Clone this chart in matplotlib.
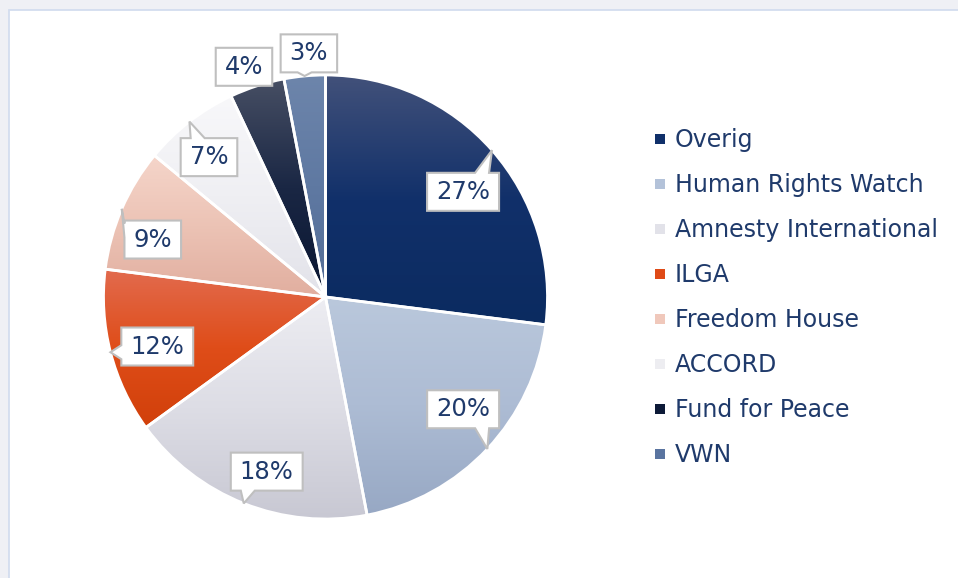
import numpy as np
import matplotlib
matplotlib.use('Agg')
import matplotlib.pyplot as plt
from matplotlib.patches import Rectangle, Polygon
from matplotlib.lines import Line2D
from matplotlib.colors import LinearSegmentedColormap

labels = ['Overig', 'Human Rights Watch', 'Amnesty International', 'ILGA',
          'Freedom House', 'ACCORD', 'Fund for Peace', 'VWN']
shares = [27, 20, 18, 12, 9, 7, 4, 3]

# gradient stops for each slice: top, middle, bottom
grad = [('#42517a', '#11306a', '#0b2b60'),
        ('#bac8dc', '#adbcd4', '#97a8c4'),
        ('#ededf2', '#dddde5', '#c8c8d3'),
        ('#e26b4f', '#df4d19', '#d1400a'),
        ('#f5d5ca', '#ecc3b5', '#e1ae9f'),
        ('#f8f8fa', '#efeff3', '#e2e2e9'),
        ('#474f64', '#1a2744', '#0a1631'),
        ('#6d85ab', '#5f79a2', '#536c96')]
legend_col = ['#10306a', '#b3c2d9', '#e2e2e9', '#df4a17', '#f0c8bb',
              '#ededf1', '#0d1a38', '#5a74a0']

# label box placement: radius factor and angle nudge (deg)
lab_r = [0.78, 0.80, 0.83, 0.79, 0.82, 0.82, 1.10, 1.10]
lab_da = [4, -4, -3, -2, -5, -2, -1.5, 1.5]

txt_col = '#1f3a6b'
W, H = 958, 578

fig = plt.figure(figsize=(W / 100, H / 100), dpi=100, facecolor='#eff0f5')
ax = fig.add_axes([0, 0, 1, 1])
ax.set_facecolor('#eff0f5')

# white chart area with thin light-blue border
ax.add_patch(Rectangle((9.5, -10), W, H - 9.5 + 10, facecolor='white',
                       edgecolor='#d3ddef', lw=1.3, zorder=0))

cx, cy, R = 325.5, 281, 222
wedges, _ = ax.pie(shares, startangle=90, counterclock=False, radius=R,
                   center=(cx, cy),
                   wedgeprops=dict(linewidth=2, edgecolor='white'))

for w, g in zip(wedges, grad):
    bb = w.get_path().get_extents()
    cmap = LinearSegmentedColormap.from_list('g', [g[2], g[1], g[0]])
    arr = np.linspace(0, 1, 256)[:, None]
    im = ax.imshow(arr, cmap=cmap, extent=(bb.x0, bb.x1, bb.y0, bb.y1),
                   origin='lower', aspect='auto', zorder=2,
                   interpolation='bilinear')
    im.set_clip_path(w)
    w.set_facecolor('none')
    w.set_zorder(3)

# callout labels
renderer = fig.canvas.get_renderer()
cum = np.cumsum([0] + shares[:-1])
for i, v in enumerate(shares):
    mid = np.deg2rad((cum[i] + v / 2) / 100 * 360)
    tip = (cx + R * np.sin(mid), cy + R * np.cos(mid))
    a = mid + np.deg2rad(lab_da[i])
    bx, by = cx + lab_r[i] * R * np.sin(a), cy + lab_r[i] * R * np.cos(a)
    t = ax.text(bx, by, '%d%%' % v, fontsize=17.5, color=txt_col,
                ha='center', va='center', zorder=6)
    ext = t.get_window_extent(renderer)
    hw, hh = ext.width / 2 + 9, 19
    x0, x1, y0, y1 = bx - hw, bx + hw, by - hh, by + hh
    dx, dy = tip[0] - bx, tip[1] - by
    bw = 14
    if abs(dx) / hw > 0.6 * abs(dy) / hh:
        c = np.clip(tip[1], y0 + 3 + bw / 2, y1 - 3 - bw / 2)
        b0, b1 = c - bw / 2, c + bw / 2
        if dx > 0:
            pts = [(x0, y0), (x1, y0), (x1, b0), tip, (x1, b1), (x1, y1), (x0, y1)]
        else:
            pts = [(x0, y0), (x1, y0), (x1, y1), (x0, y1), (x0, b1), tip, (x0, b0)]
    else:
        c = np.clip(tip[0], x0 + 10 + bw / 2, x1 - 10 - bw / 2)
        b0, b1 = c - bw / 2, c + bw / 2
        if dy > 0:
            pts = [(x0, y0), (x1, y0), (x1, y1), (b1, y1), tip, (b0, y1), (x0, y1)]
        else:
            pts = [(x0, y0), (b0, y0), tip, (b1, y0), (x1, y0), (x1, y1), (x0, y1)]
    ax.add_patch(Polygon(pts, closed=True, facecolor='white', edgecolor='#bfbfbf',
                         lw=1.5, joinstyle='miter', zorder=5))

handles = [Line2D([], [], marker='s', linestyle='none', markersize=6.8,
                  markerfacecolor=c, markeredgewidth=0) for c in legend_col]
ax.legend(handles, labels, loc='upper left', bbox_to_anchor=(655, H - 128),
          bbox_transform=ax.transData, frameon=False, fontsize=17,
          labelcolor=txt_col, handlelength=0.45, handletextpad=0.4,
          labelspacing=0.89, borderpad=0, borderaxespad=0)

ax.set_xlim(0, W)
ax.set_ylim(0, H)
ax.axis('off')

fig.savefig('out.png', dpi=100, facecolor=fig.get_facecolor())
